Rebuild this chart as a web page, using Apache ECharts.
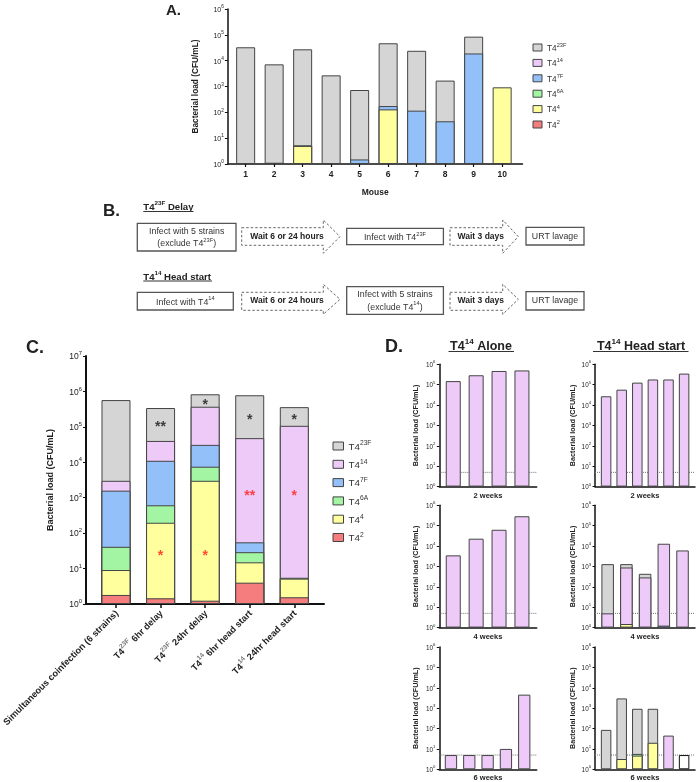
<!DOCTYPE html>
<html><head><meta charset="utf-8">
<script src="https://cdn.jsdelivr.net/npm/echarts@6/dist/echarts.min.js"></script>
<style>html,body{margin:0;padding:0;background:#fff}#c{width:696px;height:782px}</style>
</head><body><div id="c"></div>
<script>
// ---------------- DATA ----------------
const STRAINS = ['2','4','6A','7F','14','23F'];          // bottom -> top of each stack
const LEGEND_ORDER = ['23F','14','7F','6A','4','2'];
const COLORS = {'2':'#f67d7d','4':'#ffff9e','6A':'#a3f5a3','7F':'#93c0f8','14':'#edcaf7','23F':'#d5d5d5','none':'#ffffff'};

// Panel A: per-mouse CFU/mL of each strain
const A_mice   = ['1','2','3','4','5','6','7','8','9','10'];
const A_T4_2   = [0,0,0,0,0,0,0,0,0,0];
const A_T4_4   = [0,0,5,0,0,130,0,0,0,930];
const A_T4_6A  = [0,0,0.3,0,0,0,0,0,0,0];
const A_T4_7F  = [0,1.12,0,0,1.5,45,116,45,19000,0];
const A_T4_14  = [0,0,0,0,0,0,0,0,0,0];
const A_T4_23F = [33000,7200,27500,2700,730,47000,24000,1650,66000,0];

// Panel C: group means
const C_groups = ['Simultaneous coinfection (6 strains)','T4^{23F} 6hr delay','T4^{23F} 24hr delay','T4^{14} 6hr head start','T4^{14} 24hr head start'];
const C_T4_2   = [1.8, 1.45, 1.24, 4, 1.55];
const C_T4_4   = [7.3, 195, 3000, 11, 3.65];
const C_T4_6A  = [32, 415, 4500, 14, 0.3];
const C_T4_7F  = [1540, 10400, 23500, 26, 0];
const C_T4_14  = [1420, 29000, 339000, 48000, 107000];
const C_T4_23F = [567000, 300000, 460000, 732000, 253000];
const C_sig_black    = ['', '**', '*', '*', '*'];
const C_sig_black_at = [null, 1.17e5, 5.1e5, 1.86e5, 1.86e5];
const C_sig_red      = ['', '*', '*', '**', '*'];
const C_sig_red_at   = [null, 27, 27, 1320, 1320];

// Panel D
const D_weeks = ['2 weeks','4 weeks','6 weeks'];
const D_LOD = 5;
const D_alone_2wk_T4_14 = [150000, 290000, 470000, 500000];
const D_alone_4wk_T4_14 = [3500, 23000, 63000, 290000];
const D_alone_6wk_T4_14 = [5, 5, 5, 10, 4600];
const D_hs_2wk_T4_14  = [27000, 57000, 126000, 180000, 180000, 350000];
const D_hs_4wk_T4_4   = [0, 1.5, 0, 0, 0];
const D_hs_4wk_T4_7F  = [0, 0, 0, 1.25, 0];
const D_hs_4wk_T4_14  = [5, 888, 290, 13000, 6100];
const D_hs_4wk_T4_23F = [1295, 410, 146, 0, 0];
const D_hs_6wk_T4_4   = [0, 3.2, 4.7, 20, 0, 0];
const D_hs_6wk_T4_6A  = [0, 0, 1, 0, 0, 0];
const D_hs_6wk_T4_14  = [0, 0, 0, 0, 45, 0];
const D_hs_6wk_T4_23F = [86, 3000, 925, 910, 0, 0];
const D_hs_6wk_none   = [0, 0, 0, 0, 0, 5];

// ---------------- HELPERS ----------------
const F = '"Liberation Sans", Arial, sans-serif';
function rich(size, o) {
  o = o || {};
  const c = o.color || '#222', w = o.weight || 'normal';
  const lh = o.lh || Math.round(size * 1.25);
  return {
    b: {fontSize: size, fontFamily: F, fontWeight: w, color: c, fill: c, lineHeight: lh, verticalAlign: 'bottom'},
    s: {fontSize: Math.max(4, size * (o.supScale || 0.68)), fontFamily: F, fontWeight: w, color: o.supColor || c, fill: o.supColor || c, lineHeight: size * 0.7, verticalAlign: 'top'}
  };
}
function sup(str) {
  return str.split(/(\^\{[^}]*\})/).filter(p => p !== '')
    .map(p => p.indexOf('^{') === 0 ? '{s|' + p.slice(2, -1) + '}' : '{b|' + p + '}').join('');
}
const expLabel = v => '{b|10}{s|' + Math.round(Math.log10(v)) + '}';
const idx = arr => arr.map((_, i) => String(i + 1));

const grids = [], xAxes = [], yAxes = [], series = [];

function addPanel(p) {
  const gF = grids.length;
  grids.push({left: p.frame.left, top: p.frame.top, width: p.frame.width, height: p.frame.height, outerBoundsMode: 'none'});
  const gD = grids.length;
  grids.push({left: p.inner.left, top: p.frame.top, width: p.inner.width, height: p.frame.height, outerBoundsMode: 'none'});
  const xF = xAxes.length;
  xAxes.push({gridIndex: gF, type: 'value', min: 0, max: 1,
    axisLine: {show: true, onZero: false, lineStyle: {color: '#111', width: p.axisW}},
    axisTick: {show: false}, axisLabel: {show: false}, splitLine: {show: false},
    name: p.xName || '', nameLocation: 'middle', nameGap: p.xNameGap || 0,
    nameTextStyle: {fontFamily: F, fontWeight: 'bold', fontSize: p.xNameFont || 8, color: '#222'}});
  const xD = xAxes.length;
  xAxes.push(Object.assign({gridIndex: gD, type: 'category', data: p.cats,
    axisLine: {show: false}, splitLine: {show: false}},
    p.xAxisExtra || {axisTick: {show: false}, axisLabel: {show: false}}));
  const yF = yAxes.length;
  yAxes.push({gridIndex: gF, type: 'log', logBase: 10, min: 1, max: p.ymax, interval: 1,
    axisLine: {show: true, onZero: false, lineStyle: {color: '#111', width: p.axisW}},
    axisTick: {show: true, length: p.tickLen, lineStyle: {color: '#111', width: 1}},
    axisLabel: {formatter: expLabel, rich: rich(p.yFont), margin: p.yMargin || 4},
    splitLine: {show: false}, minorTick: {show: false},
    name: 'Bacterial load (CFU/mL)', nameLocation: 'middle', nameRotate: 90, nameGap: p.yNameGap,
    nameTextStyle: {fontFamily: F, fontWeight: 'bold', fontSize: p.yNameFont, color: '#222'}});
  const yD = yAxes.length;
  yAxes.push({gridIndex: gD, type: 'log', logBase: 10, min: 1, max: p.ymax, interval: 1, show: false});
  return {xF, yF, xD, yD};
}

function addStack(ax, cats, seg, barWidth) {
  let run = cats.map(() => 0);
  const cum = {};
  STRAINS.forEach(k => {
    const v = seg[k] || cats.map(() => 0);
    run = run.map((r, i) => r + v[i]);
    cum[k] = run.map((r, i) => v[i] > 0 ? r : '-');
  });
  LEGEND_ORDER.forEach(k => {
    if (!seg[k]) return;
    series.push({type: 'bar', name: k, xAxisIndex: ax.xD, yAxisIndex: ax.yD, barWidth: barWidth, barGap: '-100%',
      data: cum[k], silent: true, z: 3, animation: false,
      itemStyle: {color: COLORS[k], borderColor: '#444', borderWidth: 1}});
  });
  if (seg.none) {
    series.push({type: 'bar', name: 'none', xAxisIndex: ax.xD, yAxisIndex: ax.yD, barWidth: barWidth, barGap: '-100%',
      data: seg.none.map(v => v > 0 ? v : '-'), silent: true, z: 3, animation: false,
      itemStyle: {color: COLORS.none, borderColor: '#111', borderWidth: 1}});
  }
}
function addLOD(ax) {
  series.push({type: 'line', xAxisIndex: ax.xF, yAxisIndex: ax.yF, data: [[0, D_LOD], [1, D_LOD]],
    symbol: 'none', silent: true, z: 1, animation: false,
    lineStyle: {type: 'dotted', color: '#777', width: 1}});
}

// ---------------- PANEL A ----------------
const axA = addPanel({frame: {left: 227.9, top: 9, width: 294.6, height: 155}, inner: {left: 231.4, width: 285},
  ymax: 1e6, cats: A_mice, axisW: 1.5, tickLen: 3, yFont: 7, yNameGap: 28, yNameFont: 8.3,
  xName: 'Mouse', xNameGap: 24, xNameFont: 8.5,
  xAxisExtra: {axisTick: {show: true, alignWithLabel: true, length: 3, lineStyle: {color: '#111', width: 1.2}},
    axisLabel: {interval: 0, margin: 6, fontFamily: F, fontWeight: 'bold', fontSize: 8.5, color: '#222'}}});
addStack(axA, A_mice, {'2': A_T4_2, '4': A_T4_4, '6A': A_T4_6A, '7F': A_T4_7F, '14': A_T4_14, '23F': A_T4_23F}, 19);

// ---------------- PANEL C ----------------
const axC = addPanel({frame: {left: 86, top: 356, width: 238, height: 248}, inner: {left: 93.7, width: 222.9},
  ymax: 1e7, cats: C_groups, axisW: 2, tickLen: 3, yFont: 8.5, yNameGap: 31, yNameFont: 9,
  xAxisExtra: {axisTick: {show: true, alignWithLabel: true, length: 4, lineStyle: {color: '#111', width: 1.5}},
    axisLabel: {interval: 0, rotate: 45, margin: 7, formatter: v => sup(v),
      rich: rich(9.2, {weight: 'bold', supColor: '#777', supScale: 0.72})}}});
addStack(axC, C_groups, {'2': C_T4_2, '4': C_T4_4, '6A': C_T4_6A, '7F': C_T4_7F, '14': C_T4_14, '23F': C_T4_23F}, 29);
function starSeries(ax, txt, at, color) {
  const data = [];
  txt.forEach((t, i) => { if (t) data.push({value: [i, at[i]], label: {formatter: t}}); });
  series.push({type: 'scatter', xAxisIndex: ax.xD, yAxisIndex: ax.yD, symbol: 'circle', symbolSize: 1,
    itemStyle: {color: 'rgba(0,0,0,0)'}, silent: true, z: 6, animation: false, data,
    label: {show: true, position: 'inside', color, fontSize: 14, fontWeight: 'bold', fontFamily: F, offset: [0, 3]}});
}
starSeries(axC, C_sig_black, C_sig_black_at, '#111');
starSeries(axC, C_sig_red, C_sig_red_at, '#ff1a1a');

// ---------------- PANEL D ----------------
const rowTop = [364.3, 505.3, 647], rowH = 122.3;
const L = {frame: {left: 439.3, width: 97.4}, inner: {left: 441.8, width: 91.6}, nameGap: 20};
const R = {frame: {left: 595, width: 100}, inner: {left: 598.3, width: 93.6}, nameGap: 18};
const Dpanels = [
  {col: L, row: 0, seg: {'14': D_alone_2wk_T4_14}, bw: 15},
  {col: L, row: 1, seg: {'14': D_alone_4wk_T4_14}, bw: 15},
  {col: L, row: 2, seg: {'14': D_alone_6wk_T4_14}, bw: 12.3},
  {col: R, row: 0, seg: {'14': D_hs_2wk_T4_14}, bw: 10.5},
  {col: R, row: 1, seg: {'4': D_hs_4wk_T4_4, '7F': D_hs_4wk_T4_7F, '14': D_hs_4wk_T4_14, '23F': D_hs_4wk_T4_23F}, bw: 12.5},
  {col: R, row: 2, seg: {'4': D_hs_6wk_T4_4, '6A': D_hs_6wk_T4_6A, '14': D_hs_6wk_T4_14, '23F': D_hs_6wk_T4_23F, none: D_hs_6wk_none}, bw: 10.5}
];
Dpanels.forEach(d => {
  const cats = idx(d.seg['14']);
  const ax = addPanel({frame: {left: d.col.frame.left, top: rowTop[d.row], width: d.col.frame.width, height: rowH},
    inner: d.col.inner, ymax: 1e6, cats, axisW: 1.5, tickLen: 2.5, yFont: 6.3, yNameGap: d.col.nameGap, yNameFont: 7.2,
    xName: D_weeks[d.row], xNameGap: 5, xNameFont: 7.5});
  addLOD(ax);
  addStack(ax, cats, d.seg, d.bw);
});

// ---------------- GRAPHIC (labels, panel B diagram) ----------------
function T(x, y, text, size, o) {
  o = o || {};
  return {type: 'text', x, y, silent: true, z: 10,
    style: {text, fontSize: size, fontFamily: F, fontWeight: o.weight || 'normal', fill: o.color || '#222',
      align: o.align || 'left', verticalAlign: 'middle', rich: o.rich}};
}
function box(x, y, w, h) {
  return {type: 'rect', silent: true, z: 10, shape: {x, y, width: w, height: h}, style: {fill: '#fff', stroke: '#555', lineWidth: 1.3}};
}
function arrow(x0, xh, x1, yT, yt, yb, yB) {
  const ym = (yT + yB) / 2;
  return {type: 'polygon', silent: true, z: 10,
    shape: {points: [[x0, yt], [xh, yt], [xh, yT], [x1, ym], [xh, yB], [xh, yb], [x0, yb]]},
    style: {fill: 'none', stroke: '#666', lineWidth: 1, lineDash: [2.5, 2]}};
}
function uline(x1, x2, y) {
  return {type: 'line', silent: true, z: 10, shape: {x1, y1: y, x2, y2: y}, style: {stroke: '#333', lineWidth: 1}};
}
const boxFont = 8.8, boxCol = '#333';
const R9 = rich(boxFont, {color: boxCol, supScale: 0.65});
const RB = rich(9.6, {weight: 'bold', color: '#222', supScale: 0.65});
const RD = rich(12.5, {weight: 'bold', color: '#222', supScale: 0.65, lh: 15});
const graphic = [
  T(166, 10.5, 'A.', 15, {weight: 'bold'}),
  T(103, 211, 'B.', 17, {weight: 'bold'}),
  T(26, 348, 'C.', 18, {weight: 'bold'}),
  T(385, 347.5, 'D.', 18, {weight: 'bold'}),
  // D titles
  T(481, 345.5, sup('T4^{14} Alone'), 12.5, {align: 'center', rich: RD}),
  T(641, 345.5, sup('T4^{14} Head start'), 12.5, {align: 'center', rich: RD}),
  uline(448.5, 514, 351.5), uline(593, 688.5, 351.5),
  // B row 1
  T(143.3, 206.5, sup('T4^{23F} Delay'), 9.6, {rich: RB}), uline(143.3, 193.5, 211.5),
  box(137.3, 223.3, 98.7, 27.7),
  T(186.7, 231.3, 'Infect with 5 strains', boxFont, {align: 'center', color: boxCol}),
  T(186.7, 243, sup('(exclude T4^{23F})'), boxFont, {align: 'center', rich: R9}),
  arrow(241.7, 323.3, 340, 220, 227.7, 245.3, 253.3),
  T(287, 236.8, 'Wait 6 or 24 hours', 8.5, {align: 'center', weight: 'bold'}),
  box(346.7, 228.3, 96.7, 16.3),
  T(395, 236.5, sup('Infect with T4^{23F}'), boxFont, {align: 'center', rich: R9}),
  arrow(450, 502.7, 518.3, 220, 227.7, 245.3, 253.3),
  T(480.8, 236.8, 'Wait 3 days', 8.5, {align: 'center', weight: 'bold'}),
  box(526, 227.3, 58, 17.7),
  T(555, 236.3, 'URT lavage', boxFont, {align: 'center', color: boxCol}),
  // B row 2
  T(143.3, 276, sup('T4^{14} Head start'), 9.6, {rich: RB}), uline(143.3, 212, 281),
  box(137.3, 292.3, 96, 17.7),
  T(185.3, 301.2, sup('Infect with T4^{14}'), boxFont, {align: 'center', rich: R9}),
  arrow(241.7, 323.3, 340, 284.3, 292.3, 310.3, 314.3),
  T(287, 301, 'Wait 6 or 24 hours', 8.5, {align: 'center', weight: 'bold'}),
  box(346.7, 286.7, 96.7, 27.7),
  T(395, 294.5, 'Infect with 5 strains', boxFont, {align: 'center', color: boxCol}),
  T(395, 306.3, sup('(exclude T4^{14})'), boxFont, {align: 'center', rich: R9}),
  arrow(450, 502.7, 518.3, 284.3, 292.3, 310.3, 314.3),
  T(480.8, 301, 'Wait 3 days', 8.5, {align: 'center', weight: 'bold'}),
  box(526, 291.7, 58, 18.3),
  T(555, 301, 'URT lavage', boxFont, {align: 'center', color: boxCol})
];

// ---------------- LEGENDS ----------------
const legFmt = n => '{b|T4}{s|' + n + '}';
const legends = [
  {left: 527.5, top: 37.5, orient: 'vertical', itemWidth: 9, itemHeight: 7, itemGap: 5.4, data: LEGEND_ORDER,
   formatter: legFmt, icon: 'rect', selectedMode: false, itemStyle: {borderColor: '#444', borderWidth: 1},
   textStyle: {rich: rich(8.3, {color: '#333', lh: 10})}},
  {left: 327.5, top: 435, orient: 'vertical', itemWidth: 10.5, itemHeight: 8, itemGap: 6.3, data: LEGEND_ORDER,
   formatter: legFmt, icon: 'rect', selectedMode: false, itemStyle: {borderColor: '#444', borderWidth: 1},
   textStyle: {rich: rich(9.8, {color: '#333', lh: 12})}}
];

const chart = echarts.init(document.getElementById('c'), null, {renderer: 'canvas'});
chart.setOption({
  animation: false,
  backgroundColor: '#fff',
  grid: grids, xAxis: xAxes, yAxis: yAxes, series,
  legend: legends, graphic, tooltip: {show: false}
});
</script></body></html>
